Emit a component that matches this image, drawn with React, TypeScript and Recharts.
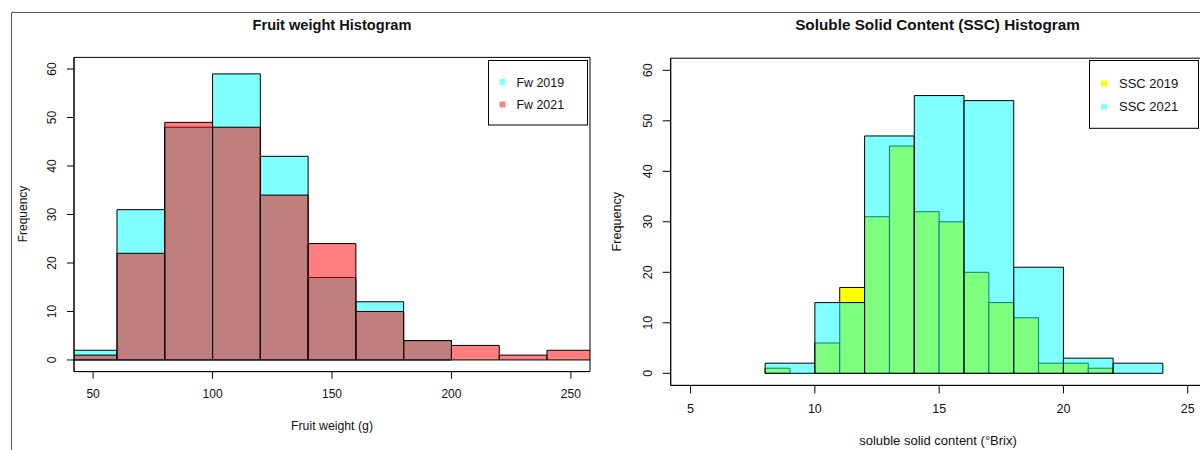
import React from "react";
import { ComposedChart, XAxis, YAxis, ReferenceArea } from "recharts";

// ---------- data ----------
const fwBreaks2019 = [40, 60, 80, 100, 120, 140, 160, 180, 200];
const fwCounts2019 = [2, 31, 48, 59, 42, 17, 12, 4];
const fwBreaks2021 = [40, 60, 80, 100, 120, 140, 160, 180, 200, 220, 240, 260];
const fwCounts2021 = [1, 22, 49, 48, 34, 24, 10, 4, 3, 1, 2];
const fwXTicks = [50, 100, 150, 200, 250];

const sscBreaks2019 = [8, 9, 10, 11, 12, 13, 14, 15, 16, 17, 18, 19, 20, 21, 22];
const sscCounts2019 = [1, 0, 6, 17, 31, 45, 32, 30, 20, 14, 11, 2, 2, 1];
const sscBreaks2021 = [8, 10, 12, 14, 16, 18, 20, 22, 24];
const sscCounts2021 = [2, 14, 47, 55, 54, 21, 3, 2];
const sscXTicks = [5, 10, 15, 20, 25];

const freqTicks = [0, 10, 20, 30, 40, 50, 60];

const FONT = "'Liberation Sans', Arial, Helvetica, sans-serif";

type Bin = { lo: number; hi: number; n: number };
const toBins = (breaks: number[], counts: number[]): Bin[] =>
  counts.map((n, i) => ({ lo: breaks[i], hi: breaks[i + 1], n }));

const fw2019 = toBins(fwBreaks2019, fwCounts2019);
const fw2021 = toBins(fwBreaks2021, fwCounts2021);
const ssc2019 = toBins(sscBreaks2019, sscCounts2019);
const ssc2021 = toBins(sscBreaks2021, sscCounts2021);

const makeYTick = (fs: number) => (props: any) => {
  const { x, y, payload } = props;
  return (
    <text
      x={x}
      y={y}
      transform={`rotate(-90 ${x} ${y})`}
      textAnchor="middle"
      fontSize={fs}
      fontFamily={FONT}
      fill="#111"
    >
      {payload.value}
    </text>
  );
};

function renderBins(bins: Bin[], fill: string, opacity: number, prefix: string) {
  return bins.map((b, i) => (
    <ReferenceArea
      key={prefix + i}
      x1={b.lo}
      x2={b.hi}
      y1={0}
      y2={b.n}
      fill={fill}
      fillOpacity={opacity}
      stroke="#000"
      strokeWidth={1}
      strokeOpacity={1}
      ifOverflow="hidden"
    />
  ));
}

type Series = { bins: Bin[]; fill: string; opacity: number };

function Hist(props: {
  width: number;
  margin: { top: number; right: number; left: number; bottom: number };
  xDomain: [number, number];
  xTicks: number[];
  tickSize: number;
  fs: number;
  series: Series[];
}) {
  const { width, margin, xDomain, xTicks, tickSize, fs, series } = props;
  return (
    <ComposedChart width={width} height={450} margin={margin} data={series[0].bins}>
      <XAxis
        type="number"
        dataKey="lo"
        domain={xDomain}
        ticks={xTicks}
        allowDataOverflow
        tickSize={tickSize}
        tickMargin={11}
        height={50}
        axisLine={{ stroke: "#000" }}
        tickLine={{ stroke: "#000" }}
        tick={{ fontSize: fs, fill: "#111", fontFamily: FONT }}
        interval={0}
      />
      <YAxis
        type="number"
        domain={[-2.4, 62.4]}
        ticks={freqTicks}
        allowDataOverflow
        width={60}
        tickSize={tickSize}
        tickMargin={11}
        axisLine={{ stroke: "#000" }}
        tickLine={{ stroke: "#000" }}
        tick={makeYTick(fs)}
        interval={0}
      />
      {series.map((s, k) => renderBins(s.bins, s.fill, s.opacity, "s" + k + "-"))}
      <ReferenceArea
        x1={xDomain[0]}
        x2={xDomain[1]}
        y1={-2.4}
        y2={62.4}
        fill="none"
        stroke="#000"
        strokeWidth={1}
        ifOverflow="visible"
      />
    </ComposedChart>
  );
}

export default function App() {
  return (
    <div
      style={{
        position: "absolute",
        left: 0,
        top: 0,
        width: 1200,
        height: 450,
        overflow: "hidden",
        background: "#fff",
      }}
    >
      <div style={{ position: "absolute", left: 0, top: 0 }}>
        <Hist
          width={600}
          margin={{ top: 57.4, right: 10, left: 14, bottom: 28.4 }}
          xDomain={[42, 258]}
          xTicks={fwXTicks}
          tickSize={7}
          fs={12}
          series={[
            { bins: fw2019, fill: "#00ffff", opacity: 0.5 },
            { bins: fw2021, fill: "#ff0000", opacity: 0.5 },
          ]}
        />
      </div>
      <div style={{ position: "absolute", left: 600, top: 0 }}>
        <Hist
          width={620}
          margin={{ top: 58.2, right: 12.4, left: 10.7, bottom: 14.6 }}
          xDomain={[4.2, 25.8]}
          xTicks={sscXTicks}
          tickSize={8}
          fs={12.5}
          series={[
            { bins: ssc2019, fill: "#ffff00", opacity: 1 },
            { bins: ssc2021, fill: "#00ffff", opacity: 0.5 },
          ]}
        />
      </div>
      <svg
        width={1200}
        height={450}
        style={{ position: "absolute", left: 0, top: 0, pointerEvents: "none" }}
        fontFamily={FONT}
      >
        {/* outer frame */}
        <line x1={11.5} y1={12.5} x2={1200} y2={12.5} stroke="#555" strokeWidth={1} />
        <line x1={11.5} y1={12.5} x2={11.5} y2={450} stroke="#555" strokeWidth={1} />

        {/* titles */}
        <text x={332} y={30} textAnchor="middle" fontSize={14.6} fontWeight="bold" fill="#111">
          Fruit weight Histogram
        </text>
        <text x={937.5} y={30} textAnchor="middle" fontSize={15.3} fontWeight="bold" fill="#111">
          Soluble Solid Content (SSC) Histogram
        </text>

        {/* axis titles */}
        <text x={332} y={429.5} textAnchor="middle" fontSize={12.3} fill="#111">
          Fruit weight (g)
        </text>
        <text x={938} y={444.5} textAnchor="middle" fontSize={13} fill="#111">
          soluble solid content (°Brix)
        </text>
        <text
          x={26.5}
          y={214}
          transform="rotate(-90 26.5 214)"
          textAnchor="middle"
          fontSize={12}
          fill="#111"
        >
          Frequency
        </text>
        <text
          x={621.5}
          y={221.7}
          transform="rotate(-90 621.5 221.7)"
          textAnchor="middle"
          fontSize={12.6}
          fill="#111"
        >
          Frequency
        </text>

        {/* legend left */}
        <rect x={488.5} y={60.5} width={99} height={64.5} fill="#fff" stroke="#000" strokeWidth={1} />
        <rect x={499.5} y={79} width={6} height={6} fill="#80ffff" />
        <rect x={499.5} y={101.5} width={6} height={6} fill="#ff8080" />
        <text x={516.5} y={86.5} fontSize={12.4} fill="#111">Fw 2019</text>
        <text x={516.5} y={109} fontSize={12.4} fill="#111">Fw 2021</text>

        {/* legend right */}
        <rect x={1089.5} y={60.5} width={109} height={67.8} fill="#fff" stroke="#000" strokeWidth={1} />
        <rect x={1101} y={80.3} width={6} height={6} fill="#ffff00" />
        <rect x={1101} y={103.7} width={6} height={6} fill="#80ffff" />
        <text x={1119} y={88} fontSize={13} fill="#111">SSC 2019</text>
        <text x={1119} y={111.4} fontSize={13} fill="#111">SSC 2021</text>
      </svg>
    </div>
  );
}
